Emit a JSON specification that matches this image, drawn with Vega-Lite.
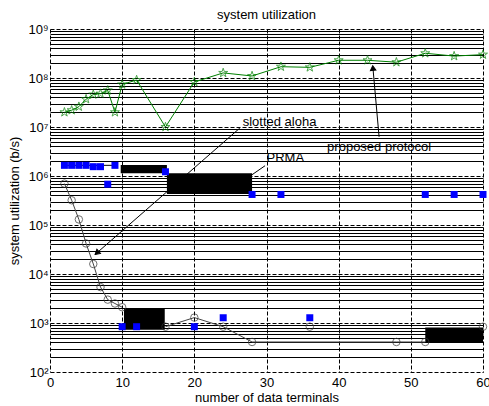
{
  "$schema": "https://vega.github.io/schema/vega-lite/v6.json",
  "width": 433,
  "height": 343,
  "autosize": "none",
  "padding": {"left": 50, "top": 29, "right": 6, "bottom": 34},
  "config": {
    "view": {"stroke": null},
    "font": "Liberation Sans",
    "title": {"font": "Liberation Sans", "fontSize": 13, "fontWeight": "normal", "color": "#000", "offset": 1},
    "axis": {"labelFont": "Liberation Sans", "titleFont": "Liberation Sans", "labelFontSize": 13, "titleFontSize": 13, "titleFontWeight": "normal", "labelColor": "#000", "titleColor": "#000"}
  },
  "title": {"text": "system utilization", "anchor": "middle"},
  "datasets": {
    "proposed": [
      {"x": 2, "y": 2.0e7}, {"x": 3, "y": 2.2e7}, {"x": 4, "y": 2.6e7}, {"x": 5, "y": 3.7e7},
      {"x": 6, "y": 4.6e7}, {"x": 7, "y": 4.8e7}, {"x": 8, "y": 5.6e7}, {"x": 9, "y": 2.0e7},
      {"x": 10, "y": 7.4e7}, {"x": 12, "y": 9.1e7}, {"x": 16, "y": 1.0e7}, {"x": 20, "y": 8.3e7},
      {"x": 24, "y": 1.27e8}, {"x": 28, "y": 1.1e8}, {"x": 32, "y": 1.7e8}, {"x": 36, "y": 1.65e8},
      {"x": 40, "y": 2.3e8}, {"x": 44, "y": 2.3e8}, {"x": 48, "y": 2.1e8}, {"x": 52, "y": 3.2e8},
      {"x": 56, "y": 2.8e8}, {"x": 60, "y": 3.0e8}
    ],
    "prma": [
      {"x": 2, "y": 1.65e6}, {"x": 3, "y": 1.65e6}, {"x": 4, "y": 1.65e6}, {"x": 5, "y": 1.65e6},
      {"x": 6, "y": 1.55e6}, {"x": 7, "y": 1.55e6}, {"x": 8, "y": 6.8e5}, {"x": 9, "y": 1.65e6},
      {"x": 10, "y": 840}, {"x": 12, "y": 840}, {"x": 16, "y": 1.22e6}, {"x": 20, "y": 840},
      {"x": 24, "y": 1280}, {"x": 28, "y": 4.2e5}, {"x": 32, "y": 4.2e5}, {"x": 36, "y": 1280},
      {"x": 52, "y": 4.2e5}, {"x": 56, "y": 4.2e5}, {"x": 60, "y": 4.2e5}
    ],
    "aloha": [
      {"x": 2, "y": 7.0e5, "run": "a"}, {"x": 3, "y": 3.2e5, "run": "a"}, {"x": 4, "y": 1.3e5, "run": "a"},
      {"x": 5, "y": 4.2e4, "run": "a"}, {"x": 6, "y": 1.6e4, "run": "a"}, {"x": 7, "y": 5.4e3, "run": "a"},
      {"x": 8, "y": 3.0e3, "run": "a"}, {"x": 9, "y": 2.5e3, "run": "a"}, {"x": 10, "y": 2.1e3, "run": "a"},
      {"x": 16, "y": 840, "run": "b"}, {"x": 20, "y": 1290, "run": "b"}, {"x": 24, "y": 840, "run": "b"},
      {"x": 28, "y": 410, "run": "b"}, {"x": 36, "y": 840, "run": "none"}, {"x": 48, "y": 410, "run": "b"},
      {"x": 52, "y": 410, "run": "b"}, {"x": 60, "y": 840, "run": "none"}
    ],
    "boxes": [
      {"x": 9.8, "x2": 16.2, "y": 1.68e6, "y2": 1.14e6},
      {"x": 16.2, "x2": 28, "y": 1.14e6, "y2": 4.3e5},
      {"x": 10.25, "x2": 15.9, "y": 2.0e3, "y2": 730},
      {"x": 52, "x2": 60, "y": 810, "y2": 410}
    ],
    "segs": [
      {"x": 2, "x2": 9, "y": 1.65e6, "y2": 1.65e6},
      {"x": 26.3, "x2": 6.5, "y": 9.5e6, "y2": 2.7e4},
      {"x": 29.8, "x2": 27.95, "y": 1.62e6, "y2": 1.05e6},
      {"x": 45.6, "x2": 44.75, "y": 6.3e6, "y2": 1.6e8}
    ],
    "heads": [
      {"x": 6.5, "y": 2.7e4, "which": "aloha"},
      {"x": 44.75, "y": 1.6e8, "which": "proposed"}
    ],
    "notes": [
      {"x": 26.7, "y": 1.28e7, "text": "slotted aloha"},
      {"x": 30.0, "y": 2.3e6, "text": "PRMA"},
      {"x": 38.4, "y": 3.96e6, "text": "proposed protocol"}
    ]
  },
  "layer": [
    {
      "data": {"name": "boxes"},
      "mark": {"type": "rect", "color": "#000"},
      "encoding": {
        "x": {
          "field": "x", "type": "quantitative",
          "scale": {"domain": [0, 60], "nice": false, "zero": false},
          "axis": {
            "title": "number of data terminals",
            "values": [0, 10, 20, 30, 40, 50, 60],
            "domain": false, "ticks": false, "tickSize": 0, "labelPadding": 4, "titlePadding": 2,
            "grid": true, "gridColor": "#000", "gridDash": [4, 2], "gridOpacity": 1, "gridWidth": 1,
            "labelFlush": false, "labelOverlap": false
          }
        },
        "x2": {"field": "x2"},
        "y": {
          "field": "y", "type": "quantitative",
          "scale": {"type": "log", "domain": [100, 1000000000], "nice": false},
          "axis": {
            "title": "system utilization (b/s)",
            "values": [100,200,300,400,500,600,700,800,900,1000,2000,3000,4000,5000,6000,7000,8000,9000,10000,20000,30000,40000,50000,60000,70000,80000,90000,100000,200000,300000,400000,500000,600000,700000,800000,900000,1000000,2000000,3000000,4000000,5000000,6000000,7000000,8000000,9000000,10000000,20000000,30000000,40000000,50000000,60000000,70000000,80000000,90000000,100000000,200000000,300000000,400000000,500000000,600000000,700000000,800000000,900000000,1000000000],
            "labelExpr": "abs(log(datum.value)/LN10 - round(log(datum.value)/LN10)) < 0.001 ? '10' + ['⁰','¹','²','³','⁴','⁵','⁶','⁷','⁸','⁹'][round(log(datum.value)/LN10)] : ''",
            "domain": false, "ticks": false, "tickSize": 0, "labelPadding": 2, "titlePadding": 6,
            "grid": true, "gridColor": "#000", "gridOpacity": 1, "gridWidth": 1,
            "gridDash": {"condition": {"test": "abs(log(datum.value)/LN10 - round(log(datum.value)/LN10)) < 0.001", "value": [4, 2]}, "value": []},
            "labelFlush": false, "labelOverlap": false
          }
        },
        "y2": {"field": "y2"}
      }
    },
    {
      "data": {"name": "segs"},
      "mark": {"type": "rule", "color": "#000", "strokeWidth": 1},
      "encoding": {
        "x": {"field": "x", "type": "quantitative"},
        "x2": {"field": "x2"},
        "y": {"field": "y", "type": "quantitative"},
        "y2": {"field": "y2"}
      }
    },
    {
      "data": {"name": "heads"},
      "transform": [{"filter": "datum.which == 'aloha'"}],
      "mark": {"type": "point", "shape": "triangle-up", "angle": 229, "filled": true, "fill": "#000", "stroke": "#000", "strokeWidth": 1, "opacity": 1, "size": 30},
      "encoding": {
        "x": {"field": "x", "type": "quantitative"},
        "y": {"field": "y", "type": "quantitative"}
      }
    },
    {
      "data": {"name": "heads"},
      "transform": [{"filter": "datum.which == 'proposed'"}],
      "mark": {"type": "point", "shape": "triangle-up", "angle": 355, "filled": true, "fill": "#000", "stroke": "#000", "strokeWidth": 1, "opacity": 1, "size": 30},
      "encoding": {
        "x": {"field": "x", "type": "quantitative"},
        "y": {"field": "y", "type": "quantitative"}
      }
    },
    {
      "data": {"name": "aloha"},
      "transform": [{"filter": "datum.run != 'none'"}],
      "mark": {"type": "line", "color": "#444", "strokeWidth": 1},
      "encoding": {
        "x": {"field": "x", "type": "quantitative"},
        "y": {"field": "y", "type": "quantitative"},
        "detail": {"field": "run"}
      }
    },
    {
      "data": {"name": "aloha"},
      "mark": {"type": "point", "shape": "circle", "filled": false, "color": "#333", "strokeWidth": 1, "size": 56},
      "encoding": {
        "x": {"field": "x", "type": "quantitative"},
        "y": {"field": "y", "type": "quantitative"}
      }
    },
    {
      "data": {"name": "prma"},
      "mark": {"type": "point", "shape": "square", "filled": true, "color": "#0000ff", "opacity": 1, "size": 49},
      "encoding": {
        "x": {"field": "x", "type": "quantitative"},
        "y": {"field": "y", "type": "quantitative"}
      }
    },
    {
      "data": {"name": "proposed"},
      "mark": {"type": "line", "color": "#008000", "strokeWidth": 1},
      "encoding": {
        "x": {"field": "x", "type": "quantitative"},
        "y": {"field": "y", "type": "quantitative"}
      }
    },
    {
      "data": {"name": "proposed"},
      "mark": {"type": "point", "shape": "M0,-1L0.2245,-0.309L0.951,-0.309L0.363,0.118L0.588,0.809L0,0.382L-0.588,0.809L-0.363,0.118L-0.951,-0.309L-0.2245,-0.309Z", "filled": false, "color": "#008000", "strokeWidth": 1, "size": 90},
      "encoding": {
        "x": {"field": "x", "type": "quantitative"},
        "y": {"field": "y", "type": "quantitative"}
      }
    },
    {
      "data": {"name": "notes"},
      "mark": {"type": "text", "align": "left", "baseline": "middle", "fontSize": 13, "font": "Liberation Sans", "color": "#000"},
      "encoding": {
        "x": {"field": "x", "type": "quantitative"},
        "y": {"field": "y", "type": "quantitative"},
        "text": {"field": "text"}
      }
    }
  ]
}
